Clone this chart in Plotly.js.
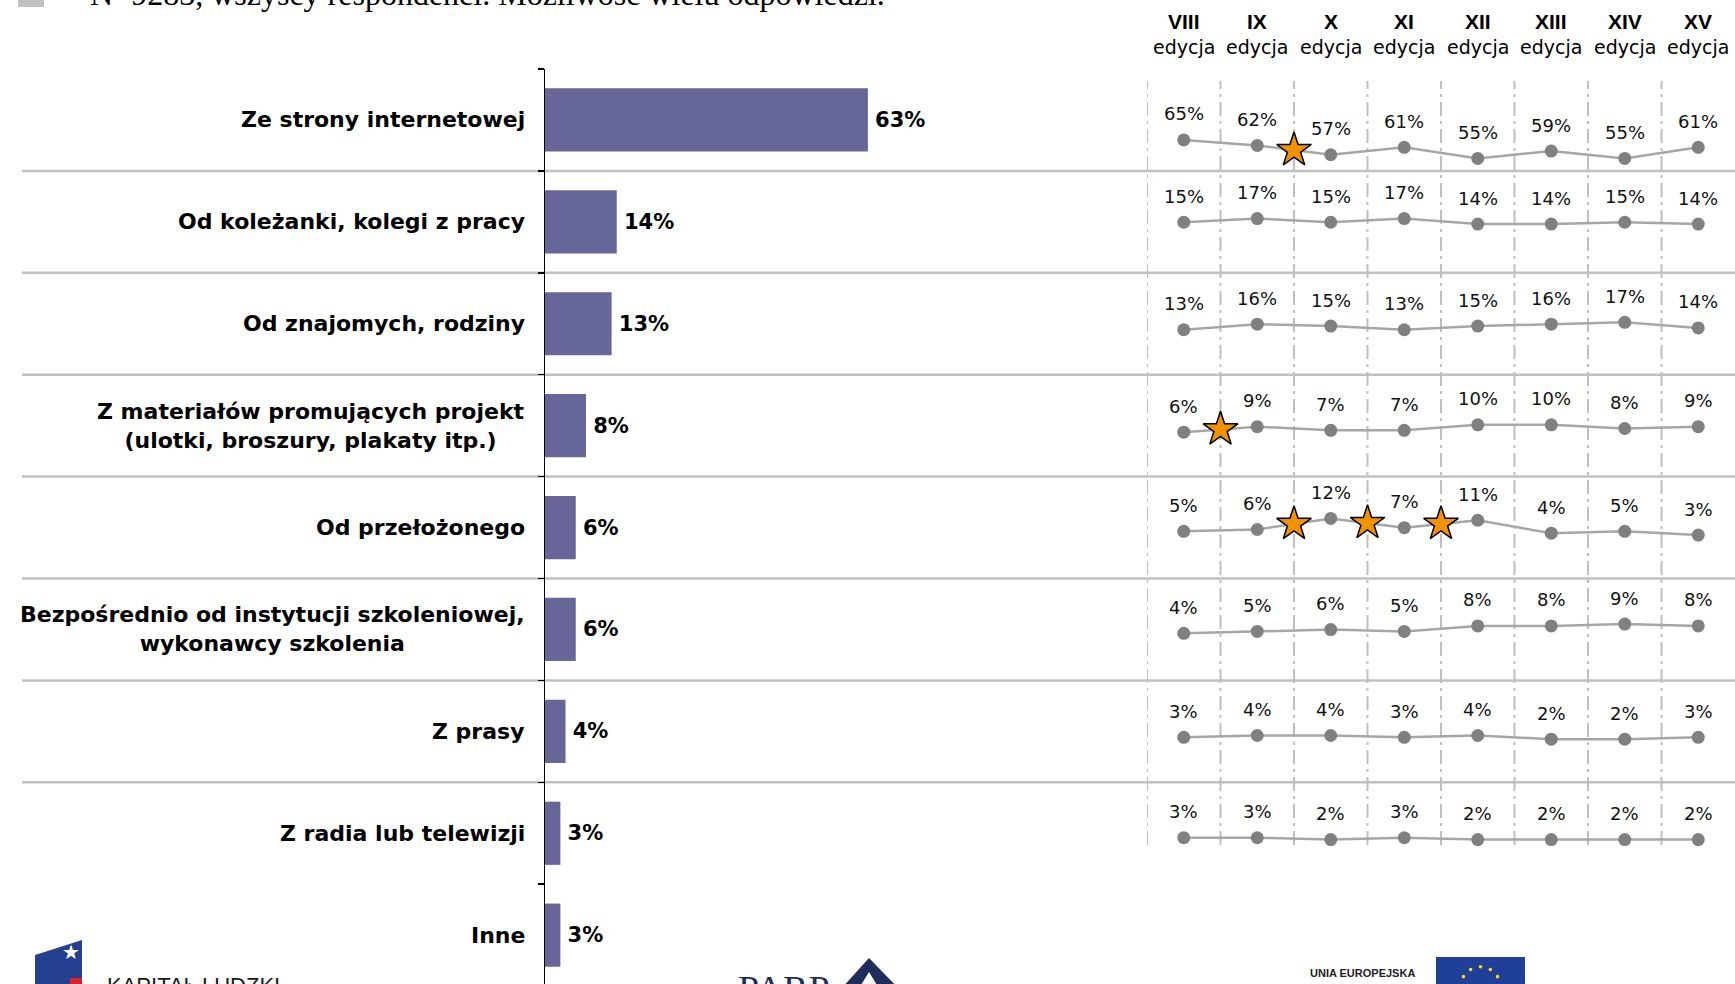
<!DOCTYPE html>
<html>
<head>
<meta charset="utf-8">
<script src="https://cdn.plot.ly/plotly-3.0.1.min.js"></script>
<style>
html,body{margin:0;padding:0;background:#ffffff;overflow:hidden}
#chart{width:1735px;height:984px}
</style>
</head>
<body>
<div id="chart"></div>
<script>
// ---------------- DATA ----------------
const categories = [
  'Ze strony internetowej',
  'Od koleżanki, kolegi z pracy',
  'Od znajomych, rodziny',
  'Z materiałów promujących projekt<br>(ulotki, broszury, plakaty itp.)',
  'Od przełożonego',
  'Bezpośrednio od instytucji szkoleniowej,<br>wykonawcy szkolenia',
  'Z prasy',
  'Z radia lub telewizji',
  'Inne'
];
const shares = [63, 14, 13, 8, 6, 6, 4, 3, 3];

const editions = ['VIII', 'IX', 'X', 'XI', 'XII', 'XIII', 'XIV', 'XV'];
const editionWord = 'edycja';

const trendInternet    = [65, 62, 57, 61, 55, 59, 55, 61];
const trendColleague   = [15, 17, 15, 17, 14, 14, 15, 14];
const trendFriends     = [13, 16, 15, 13, 15, 16, 17, 14];
const trendMaterials   = [6, 9, 7, 7, 10, 10, 8, 9];
const trendSupervisor  = [5, 6, 12, 7, 11, 4, 5, 3];
const trendInstitution = [4, 5, 6, 5, 8, 8, 9, 8];
const trendPress       = [3, 4, 4, 3, 4, 2, 2, 3];
const trendRadioTv     = [3, 3, 2, 3, 2, 2, 2, 2];

// significant changes (row index, edition index before the change)
const starRow = [0, 3, 4, 4, 4];
const starAfterEdition = [1, 0, 1, 2, 3];

const noteText = 'N=9283, wszyscy respondenci. Możliwość wielu odpowiedzi.';

// ---------------- LAYOUT HELPERS ----------------
const W = 1735, H = 984;
const px = x => x / W;
const py = y => 1 - y / H;

const trends = [trendInternet, trendColleague, trendFriends, trendMaterials,
                trendSupervisor, trendInstitution, trendPress, trendRadioTv];

const catTop = 69, catStep = 101.9;         // category band geometry (px)
const barPxPerPct = 5.125;                   // bar scale
const barLeft = 545, barRight = 1100;
const trendPxPerPct = 1.85;                  // trend rows scale
const rowZeroPx = [260.2, 250, 353.8, 443.3, 540.6, 640.7, 742.9, 843.3]; // axis calibration per row

const nCat = categories.length;
const catRangeBottom = -0.5 + (H - catTop) / catStep;

const data = [];
const layout = {
  width: W, height: H,
  margin: {l: 0, r: 0, t: 0, b: 0, pad: 0},
  paper_bgcolor: '#ffffff',
  plot_bgcolor: 'rgba(0,0,0,0)',
  showlegend: false,
  hovermode: false,
  bargap: 0.38,
  font: {family: 'Liberation Sans, Arial, sans-serif', color: '#000'},
  xaxis: {
    domain: [px(barLeft), px(barRight)],
    range: [0, (barRight - barLeft) / barPxPerPct],
    visible: false, anchor: 'y', fixedrange: true
  },
  yaxis: {
    type: 'category',
    domain: [0, py(catTop)],
    range: [catRangeBottom, -0.5],
    showline: true, linecolor: '#000', linewidth: 1.5,
    ticks: 'outside', tickson: 'boundaries', ticklen: 6, tickcolor: '#000', tickwidth: 1.5,
    showticklabels: false, showgrid: false, zeroline: false, anchor: 'x', fixedrange: true
  },
  xaxis2: {
    domain: [px(1147), 1],
    range: [-0.5, editions.length - 0.5],
    visible: false, anchor: 'y2', fixedrange: true
  },
  shapes: [],
  annotations: []
};

// bars
data.push({
  type: 'bar', orientation: 'h',
  y: categories, x: shares,
  xaxis: 'x', yaxis: 'y',
  marker: {color: '#666699', line: {width: 0}},
  texttemplate: '\u2009%{x}%', textposition: 'outside', cliponaxis: false,
  constraintext: 'none',
  textfont: {family: 'DejaVu Sans, sans-serif', size: 21, color: '#000', weight: 700}
});

// category labels
categories.forEach((c, i) => {
  layout.annotations.push({
    xref: 'paper', yref: 'y', x: px(527), y: c, xanchor: 'right', yanchor: 'middle',
    text: c, align: 'center', showarrow: false,
    font: {family: 'DejaVu Sans, sans-serif', size: 22, color: '#000', weight: 700}
  });
});

// separators between rows
for (let i = 0; i < nCat - 2; i++) {
  layout.shapes.push({
    type: 'line', layer: 'below', xref: 'paper', yref: 'y',
    x0: px(22), x1: 1, y0: i + 0.5, y1: i + 0.5,
    line: {color: '#C0C0C0', width: 2.5}
  });
}

// trend rows
trends.forEach((vals, i) => {
  const top = catTop + catStep * i, bottom = top + catStep;
  const ax = 'yaxis' + (i + 2), ref = 'y' + (i + 2);
  layout[ax] = {
    domain: [py(bottom), py(top)],
    range: [(rowZeroPx[i] - bottom) / trendPxPerPct, (rowZeroPx[i] - top) / trendPxPerPct],
    visible: false, anchor: 'x2', fixedrange: true
  };
  data.push({
    type: 'scatter', mode: 'lines+markers',
    x: editions.map((e, j) => j), y: vals,
    xaxis: 'x2', yaxis: ref, cliponaxis: false,
    line: {color: '#A6A6A6', width: 2.5},
    marker: {color: '#808080', size: 13}
  });
  vals.forEach((v, j) => {
    layout.annotations.push({
      xref: 'x2', yref: ref, x: j, y: v, yshift: 26, showarrow: false,
      text: v + '%', font: {family: 'DejaVu Sans, sans-serif', size: 18, color: '#111'}
    });
  });
});

// stars for significant changes
const starsByRow = {};
starRow.forEach((r, k) => {
  (starsByRow[r] = starsByRow[r] || []).push(starAfterEdition[k]);
});
Object.keys(starsByRow).forEach(r => {
  const vals = trends[r];
  const xs = starsByRow[r].map(a => a + 0.5);
  const ys = starsByRow[r].map(a => (vals[a] + vals[a + 1]) / 2);
  data.push({
    type: 'scatter', mode: 'markers', x: xs, y: ys,
    xaxis: 'x2', yaxis: 'y' + (Number(r) + 2), cliponaxis: false,
    marker: {symbol: 'star', size: 26, color: '#F39200', line: {color: '#000', width: 1.5}}
  });
});

// dashed column separators
for (let j = 0; j < editions.length; j++) {
  layout.shapes.push({
    type: 'line', layer: 'below', xref: 'x2', yref: 'paper',
    x0: j - 0.5, x1: j - 0.5, y0: py(845), y1: py(81),
    line: {color: '#BFBFBF', width: 2, dash: '14px,5px,3px,5px'}
  });
}

// headers
editions.forEach((e, j) => {
  layout.annotations.push({
    xref: 'x2', yref: 'paper', x: j, y: py(22), yanchor: 'middle', showarrow: false,
    text: e, font: {family: 'Liberation Sans, Arial, sans-serif', size: 21, color: '#000', weight: 700}
  });
  layout.annotations.push({
    xref: 'x2', yref: 'paper', x: j, y: py(47), yanchor: 'middle', showarrow: false,
    text: editionWord, font: {family: 'DejaVu Sans, sans-serif', size: 19, color: '#000'}
  });
});

// top note (cut off by the page edge, as in the source)
layout.shapes.push({type: 'rect', xref: 'paper', yref: 'paper',
  x0: px(18), x1: px(44), y0: py(7), y1: py(-20), fillcolor: '#C0C0C0', line: {width: 0}});
layout.annotations.push({
  xref: 'paper', yref: 'paper', x: px(88), y: py(14), xanchor: 'left', yanchor: 'bottom',
  showarrow: false, text: noteText,
  font: {family: 'Liberation Serif, Times New Roman, serif', size: 32, color: '#000'}
});

// ---- logos (decorative) ----
// Kapitał Ludzki
layout.shapes.push({type: 'path', xref: 'paper', yref: 'paper',
  path: `M${px(35)},${py(955)} L${px(82)},${py(940)} L${px(82)},${py(990)} L${px(35)},${py(990)} Z`,
  fillcolor: '#24408E', line: {width: 0}});
layout.shapes.push({type: 'rect', xref: 'paper', yref: 'paper',
  x0: px(70), x1: px(82), y0: py(990), y1: py(978), fillcolor: '#D8232A', line: {width: 0}});
layout.annotations.push({xref: 'paper', yref: 'paper', x: px(60), y: py(966), showarrow: false,
  text: '★', font: {family: 'DejaVu Sans', size: 20, color: '#ffffff'}});
layout.annotations.push({xref: 'paper', yref: 'paper', x: px(105), y: py(971), xanchor: 'left', yanchor: 'top',
  showarrow: false, text: 'KAPITAŁ LUDZKI',
  font: {family: 'Liberation Sans, Arial, sans-serif', size: 22, color: '#1a1a1a'}});
// PARP
layout.annotations.push({xref: 'paper', yref: 'paper', x: px(736), y: py(966), xanchor: 'left', yanchor: 'top',
  showarrow: false, text: 'PARP',
  font: {family: 'Liberation Serif, Times New Roman, serif', size: 38, color: '#1F2D5C'}});
layout.shapes.push({type: 'path', xref: 'paper', yref: 'paper',
  path: `M${px(869)},${py(958)} L${px(840)},${py(990)} L${px(900)},${py(990)} Z`,
  fillcolor: '#1F2D5C', line: {width: 0}});
layout.shapes.push({type: 'path', xref: 'paper', yref: 'paper',
  path: `M${px(869)},${py(972)} L${px(858)},${py(990)} L${px(880)},${py(990)} Z`,
  fillcolor: '#ffffff', line: {width: 0}});
// Unia Europejska
layout.annotations.push({xref: 'paper', yref: 'paper', x: px(1362), y: py(973), xanchor: 'center', yanchor: 'middle',
  showarrow: false, text: 'UNIA EUROPEJSKA',
  font: {family: 'Liberation Sans Narrow, Liberation Sans, Arial, sans-serif', size: 11, color: '#222', weight: 700}});
layout.shapes.push({type: 'rect', xref: 'paper', yref: 'paper',
  x0: px(1436), x1: px(1525), y0: py(990), y1: py(957), fillcolor: '#1F3F99', line: {width: 0}});
for (let k = 0; k < 12; k++) {
  const a = k * Math.PI / 6;
  const cx = 1480.5 + 19.7 * Math.sin(a), cy = 986.5 - 19.7 * Math.cos(a);
  layout.shapes.push({type: 'circle', xref: 'paper', yref: 'paper',
    x0: px(cx - 1.8), x1: px(cx + 1.8), y0: py(cy + 1.8), y1: py(cy - 1.8),
    fillcolor: '#FFDD00', line: {width: 0}});
}

Plotly.newPlot('chart', data, layout, {displayModeBar: false, staticPlot: true});
</script>
</body>
</html>
